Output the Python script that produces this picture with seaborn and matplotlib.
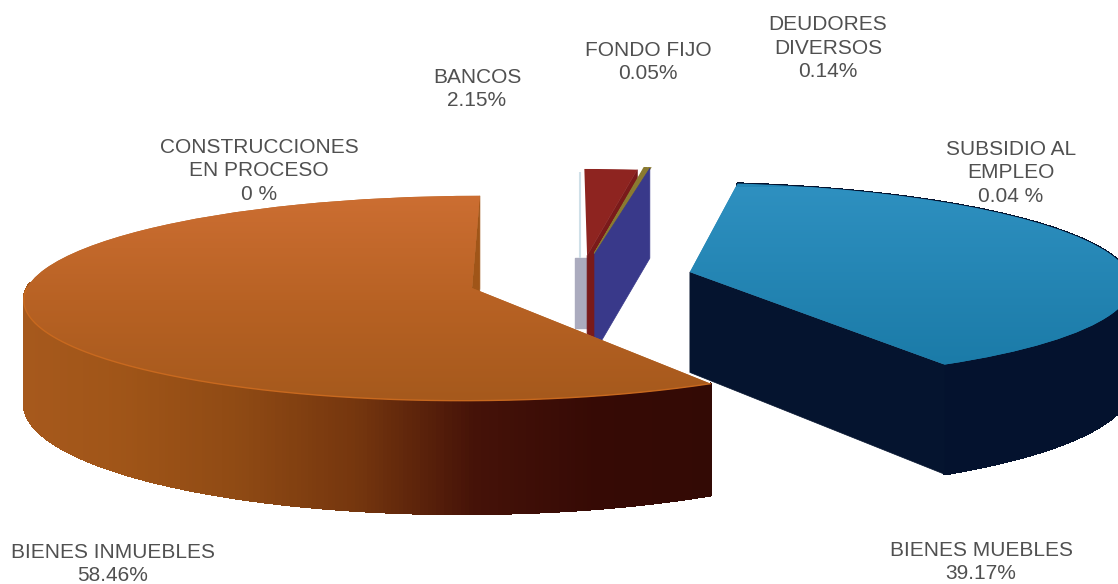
import numpy as np
import seaborn as sns
import matplotlib
matplotlib.use("Agg")
import matplotlib.pyplot as plt
from matplotlib.collections import PolyCollection
from matplotlib.transforms import Transform

# Datos
categorias = ["BIENES INMUEBLES", "BIENES MUEBLES", "SUBSIDIO AL\nEMPLEO", "DEUDORES\nDIVERSOS",
              "FONDO FIJO", "BANCOS", "CONSTRUCCIONES\nEN PROCESO"]
porcentajes = [58.46, 39.17, 0.04, 0.14, 0.05, 2.15, 0]
textos_valor = ["58.46%", "39.17%", "0.04 %", "0.14%", "0.05%", "2.15%", "0 %"]

# Disposicion: centro de cada porcion en el plano y posicion de su etiqueta (en pixeles)
centros_x = [472, 692, 596, 596, 596, 588, 588]
centros_v = [0.0, 0.16, 0.35, 0.35, 0.35, 0.33, 0.33]
etiquetas_xy = [(113, 564), (981, 562), (1011, 173), (828, 48), (648, 62), (477, 89), (259, 171)]
colores_tapa = ["#B86322", "#2486B5", "#8A7A30", "#8A7A30", "#8A7A30", "#8E2420", "#8E2420"]

W, H = 1118, 584
RADIO = 445
PROF = 102
Y0, XV, K, A = 288, 559, 101.4, 0.10


class Perspectiva(Transform):
    # plano del pastel -> pixeles, con un punto de fuga simple
    input_dims = 2
    output_dims = 2

    def transform_non_affine(self, values):
        values = np.asarray(values, dtype=float)
        v = values[:, 1] / RADIO
        s = 1 / (1 + A * v)
        return np.column_stack([XV + (values[:, 0] - XV) * s, Y0 - K * v * s])


persp = Perspectiva()


def punto(cx, v0, ang):
    x = cx + RADIO * np.cos(ang)
    y = (v0 * RADIO) + RADIO * np.sin(ang)
    return persp.transform_non_affine(np.column_stack([x, y])), 1 / (1 + A * y / RADIO)


def pared_curva(ax, cx, v0, a1, a2, cmap, xmax, z):
    angs = np.radians(np.linspace(a1, a2, 260))
    p, s = punto(cx, v0, angs)
    quads, cols = [], []
    for i in range(len(angs) - 1):
        d1, d2 = PROF * s[i], PROF * s[i + 1]
        quads.append([p[i], p[i + 1], p[i + 1] + [0, d2], p[i] + [0, d1]])
        cols.append(cmap(np.clip(p[i, 0] / xmax, 0, 1)))
    ax.add_collection(PolyCollection(quads, facecolors=cols, edgecolors=cols, linewidths=1,
                                     antialiaseds=False, zorder=z))


def pared_recta(ax, cx, v0, ang, color, z):
    centro = persp.transform_non_affine(np.array([[cx, v0 * RADIO]]))[0]
    s0 = 1 / (1 + A * v0)
    p, s = punto(cx, v0, np.radians(np.array([ang])))
    quad = [centro, p[0], p[0] + [0, PROF * s[0]], centro + [0, PROF * s0]]
    ax.add_patch(plt.Polygon(quad, closed=True, facecolor=color, edgecolor=color, lw=0.5, zorder=z))


def tapa(ax, indice, inicio, z, grosor=0):
    color = colores_tapa[indice]
    w, _ = ax.pie([porcentajes[indice] / 100], normalize=False, startangle=inicio, radius=RADIO,
                  center=(centros_x[indice], centros_v[indice] * RADIO), colors=[color],
                  wedgeprops=dict(transform=persp + ax.transData, zorder=z, linewidth=grosor, edgecolor=color))
    return w[0]


def degradado(ax, wedge, colores, y0, y1, z):
    cmap = sns.blend_palette(colores, as_cmap=True)
    im = ax.imshow(np.linspace(0, 1, 128)[:, None], extent=(0, W, y1, y0), cmap=cmap, aspect="auto", zorder=z)
    im.set_clip_path(wedge)


sns.set_theme(style="white")
plt.rcParams["font.family"] = ["Liberation Sans", "DejaVu Sans"]
fig = plt.figure(figsize=(W / 100, H / 100), dpi=100, facecolor="white")
ax = fig.add_axes([0, 0, 1, 1])

# angulos de inicio de cada porcion, en sentido antihorario desde arriba
inicios = 90 + 360 * np.cumsum([0] + porcentajes[:-1]) / 100
fines = inicios + 360 * np.array(porcentajes) / 100

# sombras junto a las porciones pequenas
ax.fill_betweenx([258, 328], 575, 587, color="#ABABBE", zorder=1)
ax.vlines(580, 172, 258, color="#CFE0E8", lw=1.5, zorder=1)

# porciones pequenas
pared_recta(ax, centros_x[5], centros_v[5], inicios[5], "#7A1A1A", 2)
tapa(ax, 5, inicios[5], 3)
for i in [4, 3, 2]:
    tapa(ax, i, inicios[i], 4, grosor=1.5)
pared_recta(ax, centros_x[2], centros_v[2], inicios[2], "#39398A", 5)

# bienes muebles
azul_lado = sns.blend_palette(["#04122E", "#04122E"], as_cmap=True)
pared_curva(ax, centros_x[1], centros_v[1], inicios[1], fines[1], azul_lado, W, 10)
pared_recta(ax, centros_x[1], centros_v[1], inicios[1], "#05142F", 11)
w = tapa(ax, 1, inicios[1], 12)
degradado(ax, w, ["#2E90C0", "#1B7BA8"], 187, 365, 13)

# bienes inmuebles
naranja_lado = sns.blend_palette(["#A85A1E", "#A05518", "#8F4A14", "#75360E", "#451208", "#360A05", "#330A05"],
                                 as_cmap=True)
# la pared curva solo se ve por delante, desde el extremo izquierdo
pared_recta(ax, centros_x[0], centros_v[0], inicios[0], "#A05518", 20)
pared_curva(ax, centros_x[0], centros_v[0], 177, fines[0], naranja_lado, 712, 21)
w = tapa(ax, 0, inicios[0], 22)
degradado(ax, w, ["#CC6E32", "#B86224", "#A5591C"], 195, 405, 23)
borde, _ = punto(centros_x[0], centros_v[0], np.radians(np.linspace(180, fines[0], 160)))
sns.lineplot(x=borde[:, 0], y=borde[:, 1], color="#C8691F", lw=1, sort=False, estimator=None, ax=ax, zorder=24)

# etiquetas
for nombre, valor, (x, y) in zip(categorias, textos_valor, etiquetas_xy):
    ax.text(x, y, f"{nombre}\n{valor}", ha="center", va="center", ma="center", fontsize=15,
            color="#505050", linespacing=1.32, zorder=30)

ax.set_xlim(0, W)
ax.set_ylim(H, 0)
ax.set_axis_off()
fig.savefig("out.png", dpi=100, facecolor="white")
